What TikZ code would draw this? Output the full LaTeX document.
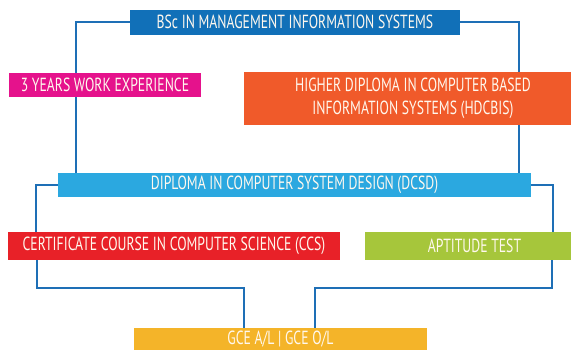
\documentclass[tikz,border=0pt]{standalone}
\usepackage{fontspec}
\setmainfont{PT Sans}[FakeStretch=0.72]
\usetikzlibrary{backgrounds}
\definecolor{cbsc}{HTML}{1170B8}
\definecolor{cyrs}{HTML}{E5128C}
\definecolor{chd}{HTML}{F05A2A}
\definecolor{cdc}{HTML}{2BA8E0}
\definecolor{cccs}{HTML}{E82128}
\definecolor{capt}{HTML}{A6C63B}
\definecolor{cgce}{HTML}{F4B429}
\definecolor{cline}{HTML}{1E6FB6}
\definecolor{ctxt}{HTML}{FFF8EE}
\tikzset{
  box/.style={rectangle, inner sep=0pt, text=ctxt, align=center,
    font=\fontsize{19}{22.7}\selectfont},
  conn/.style={draw=cline, line width=2pt}
}
\begin{document}
\begin{tikzpicture}[x=1pt,y=-1pt]
\useasboundingbox (0,0) rectangle (571,349);
\node[box, fill=cbsc, minimum width=330pt, minimum height=24.5pt] (bsc) at (295,22.3) {BSc IN MANAGEMENT INFORMATION SYSTEMS};
\node[box, fill=cyrs, minimum width=192pt, minimum height=24pt] (yrs) at (105,84.8) {3 YEARS WORK EXPERIENCE};
\node[box, fill=chd, minimum width=338pt, minimum height=53pt] (hd) at (413,98.5) {HIGHER DIPLOMA IN COMPUTER BASED\\INFORMATION SYSTEMS (HDCBIS)};
\node[box, fill=cdc, minimum width=473pt, minimum height=24pt] (dc) at (294.5,185) {DIPLOMA IN COMPUTER SYSTEM DESIGN (DCSD)};
\node[box, fill=cccs, minimum width=332pt, minimum height=27.5pt] (ccs) at (174,245.8) {CERTIFICATE COURSE IN COMPUTER SCIENCE (CCS)};
\node[box, fill=capt, minimum width=219pt, minimum height=27.5pt] (apt) at (474.5,245.8) {APTITUDE TEST};
\node[box, fill=cgce, minimum width=293pt, minimum height=23pt] (gce) at (280.5,339.5) {GCE A/L | GCE O/L};
\coordinate (mid) at (0,288.3);
\coordinate (dcnw) at ([xshift=18pt]dc.north west);
\coordinate (dcne) at ([xshift=-12pt]dc.north east);
\coordinate (ccsin) at ([xshift=28pt]ccs.north west);
\coordinate (aptin) at ([xshift=188pt]apt.north west);
\coordinate (ccsout) at ([xshift=29.5pt]ccs.south west);
\coordinate (aptout) at ([xshift=187.5pt]apt.south west);
\coordinate (gcel) at ([xshift=110pt]gce.north west);
\coordinate (gcer) at ([xshift=181pt]gce.north west);
\begin{scope}[on background layer]
\draw[conn] (bsc.west) -| (dcnw);
\draw[conn] (bsc.east) -| (dcne);
\draw[conn] (dc.west) -| (ccsin);
\draw[conn] (dc.east) -| (aptin);
\draw[conn] (ccsout) -- (ccsout |- mid) -| (gcel);
\draw[conn] (aptout) -- (aptout |- mid) -| (gcer);
\end{scope}
\end{tikzpicture}
\end{document}
